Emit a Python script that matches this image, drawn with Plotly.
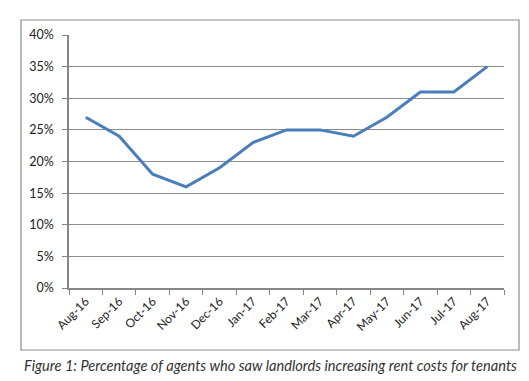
import plotly.graph_objects as go

months = ["Aug-16", "Sep-16", "Oct-16", "Nov-16", "Dec-16", "Jan-17", "Feb-17",
          "Mar-17", "Apr-17", "May-17", "Jun-17", "Jul-17", "Aug-17"]
share = [0.27, 0.24, 0.18, 0.16, 0.19, 0.23, 0.25, 0.25, 0.24, 0.27, 0.31, 0.31, 0.35]
y_ticks = [0, 0.05, 0.10, 0.15, 0.20, 0.25, 0.30, 0.35, 0.40]
caption = "Figure 1: Percentage of agents who saw landlords increasing rent costs for tenants"

fig = go.Figure(go.Scatter(
    x=months, y=share, mode="lines",
    line=dict(color="#4A7EBB", width=3),
))

W, H = 529, 381
L, R, T, B = 61, 33, 27, 101
pw, ph = W - L - R, H - T - B

def px(x):
    return (x - L) / pw

def py(y):
    return (H - B - y) / ph

fig.update_layout(
    width=W, height=H,
    margin=dict(l=L, r=R, t=T, b=B),
    paper_bgcolor="white", plot_bgcolor="white",
    showlegend=False,
    font=dict(family="Lato, Open Sans, sans-serif", size=12, color="#222"),
    xaxis=dict(
        type="category", tickangle=-45, tickson="boundaries",
        range=[-0.5, len(months) - 0.5],
        ticks="outside", ticklen=5, tickcolor="#868686",
        showline=True, linecolor="#868686", linewidth=1.5,
        showgrid=False, tickfont=dict(size=12),
    ),
    yaxis=dict(
        range=[0, 0.40], tickvals=y_ticks, tickformat=".0%",
        ticks="outside", ticklen=5, tickcolor="#868686",
        ticklabelstandoff=6,
        showline=True, linecolor="#868686", linewidth=1.5,
        showgrid=True, gridcolor="#8C8C8C", gridwidth=1,
        zeroline=False, tickfont=dict(size=12.5),
    ),
    shapes=[dict(
        type="rect", xref="paper", yref="paper",
        x0=px(13), x1=px(511), y0=py(342), y1=py(12),
        line=dict(color="#8C8C8C", width=1.2), fillcolor="rgba(0,0,0,0)",
        layer="below",
    )],
    annotations=[dict(
        text="<i>" + caption + "</i>", xref="paper", yref="paper",
        x=px(262), y=py(357), xanchor="center", yanchor="middle",
        showarrow=False,
        font=dict(family="Lato, Open Sans, sans-serif", size=14.6, color="#333"),
    )],
)

fig.write_html("out.html")
